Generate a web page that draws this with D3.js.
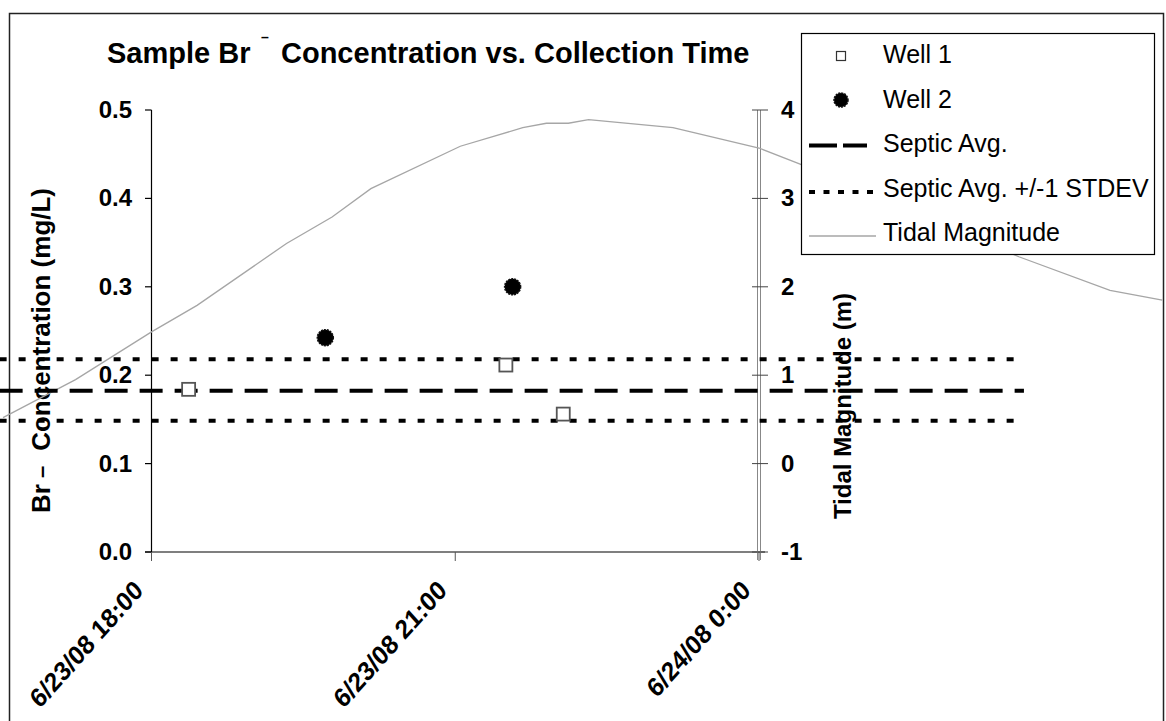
<!DOCTYPE html>
<html>
<head>
<meta charset="utf-8">
<script src="https://cdn.jsdelivr.net/npm/d3@7"></script>
<style>
    body { margin: 0; background: #fff; }
    svg { display: block; font-family: Arial, "Liberation Sans", sans-serif; }
</style>
</head>
<body>
<svg id="chart" width="1166" height="721"></svg>
<script>
'use strict';

// sample data
var well1Times = ['2008-06-23 18:22', '2008-06-23 21:30', '2008-06-23 22:04'];
var well1Values = [0.184, 0.2115, 0.156];
var well2Times = ['2008-06-23 19:43', '2008-06-23 21:34'];
var well2Values = [0.2424, 0.300];

var septicSpan = ['2008-06-23 16:30', '2008-06-24 02:37'];
var septicAvg = 0.1825;
var septicUpper = 0.218;
var septicLower = 0.1485;

var tideTimes = ['2008-06-23 16:32', '2008-06-23 17:15', '2008-06-23 18:00', '2008-06-23 18:27',
    '2008-06-23 19:20', '2008-06-23 19:47', '2008-06-23 20:10', '2008-06-23 21:03',
    '2008-06-23 21:40', '2008-06-23 21:54', '2008-06-23 22:07', '2008-06-23 22:19',
    '2008-06-23 23:09', '2008-06-24 00:00', '2008-06-24 00:24', '2008-06-24 02:34',
    '2008-06-24 03:28', '2008-06-24 03:59'];
var tideValues = [0.52, 0.95, 1.49, 1.79, 2.49, 2.79, 3.11, 3.59, 3.80, 3.85, 3.85, 3.89,
    3.80, 3.57, 3.39, 2.34, 1.96, 1.85];

var xTicks = ['2008-06-23 18:00', '2008-06-23 21:00', '2008-06-24 00:00'];
var leftTicks = [0, 0.1, 0.2, 0.3, 0.4, 0.5];
var rightTicks = [-1, 0, 1, 2, 3, 4];
var legendLabels = ['Well 1', 'Well 2', 'Septic Avg.', 'Septic Avg. +/-1 STDEV', 'Tidal Magnitude'];

var parseTime = d3.timeParse('%Y-%m-%d %H:%M');
var fmtTick = function(d) { return d3.timeFormat('%-m/%-d/%y')(d) + ' ' + d.getHours() + d3.timeFormat(':%M')(d); };

var svg = d3.select('#chart');

var x = d3.scaleTime()
    .domain([parseTime('2008-06-23 18:00'), parseTime('2008-06-24 00:00')])
    .range([151.5, 759]);
var yLeft = d3.scaleLinear().domain([0, 0.5]).range([552, 110]);
var yRight = d3.scaleLinear().domain([-1, 4]).range([552, 110]);

// outer frame
svg.append('rect')
    .attr('x', 9.5).attr('y', 13.5)
    .attr('width', 1154).attr('height', 800)
    .style('fill', 'none').style('stroke', '#222').style('stroke-width', 1.5);

// title
var title = svg.append('text')
    .attr('y', 63)
    .style('font-size', '29px').style('font-weight', 'bold');
title.append('tspan').attr('x', 107).text('Sample Br');
title.append('tspan').attr('x', 261).attr('y', 42).style('font-size', '14px').text('\u2013');
title.append('tspan').attr('x', 281).attr('y', 63).text('Concentration vs. Collection Time');

// axis titles
var leftTitle = svg.append('text')
    .attr('transform', 'translate(50,513) rotate(-90)')
    .style('font-size', '26px').style('font-weight', 'bold');
leftTitle.append('tspan').attr('x', 0).text('Br');
leftTitle.append('tspan').attr('dx', 6).attr('dy', -1).style('font-size', '22px').text('\u2013');
leftTitle.append('tspan').attr('dx', 15).attr('dy', 1).text('Concentration (mg/L)');

svg.append('text')
    .attr('transform', 'translate(851,406) rotate(-90)')
    .attr('text-anchor', 'middle')
    .style('font-size', '24px').style('font-weight', 'bold')
    .text('Tidal Magnitude (m)');

// left axis
svg.append('line')
    .attr('x1', 151.5).attr('x2', 151.5).attr('y1', yLeft(0.5)).attr('y2', yLeft(0))
    .style('stroke', '#000').style('stroke-width', 1.2);
svg.selectAll('line.lTick').data(leftTicks).enter()
    .append('line')
    .attr('class', 'lTick')
    .attr('x1', 145).attr('x2', 151.5)
    .attr('y1', function(d) { return yLeft(d); })
    .attr('y2', function(d) { return yLeft(d); })
    .style('stroke', '#000').style('stroke-width', 1.2);
svg.selectAll('text.lLab').data(leftTicks).enter()
    .append('text')
    .attr('class', 'lLab')
    .attr('x', 132)
    .attr('y', function(d) { return yLeft(d) + 8; })
    .attr('text-anchor', 'end')
    .style('font-size', '24px').style('font-weight', 'bold')
    .text(function(d) { return d3.format('.1f')(d); });

// x axis
svg.append('line')
    .attr('x1', 145).attr('x2', 765).attr('y1', 552).attr('y2', 552)
    .style('stroke', '#000').style('stroke-width', 1.2);
svg.selectAll('line.xTick').data(xTicks).enter()
    .append('line')
    .attr('class', 'xTick')
    .attr('x1', function(d) { return x(parseTime(d)); })
    .attr('x2', function(d) { return x(parseTime(d)); })
    .attr('y1', 552).attr('y2', 561)
    .style('stroke', '#555').style('stroke-width', 1);
// the original labels look stretched a little vertically
svg.selectAll('text.xLab').data(xTicks).enter()
    .append('text')
    .attr('class', 'xLab')
    .attr('text-anchor', 'end')
    .attr('transform', function(d) { return 'translate(' + (x(parseTime(d)) - 7) + ',592) scale(1,1.12) rotate(-45)'; })
    .style('font-size', '24px').style('font-weight', 'bold')
    .text(function(d) { return fmtTick(parseTime(d)); });

// right axis, drawn as a thin double rule
[757.5, 760.5].forEach(function(px) {
    svg.append('line')
        .attr('x1', px).attr('x2', px).attr('y1', yRight(4)).attr('y2', yRight(-1) + 8)
        .style('stroke', '#888').style('stroke-width', 1);
});
svg.selectAll('line.rTick').data(rightTicks).enter()
    .append('line')
    .attr('class', 'rTick')
    .attr('x1', 752).attr('x2', 768)
    .attr('y1', function(d) { return yRight(d); })
    .attr('y2', function(d) { return yRight(d); })
    .style('stroke', '#444').style('stroke-width', 1);
svg.selectAll('text.rLab').data(rightTicks).enter()
    .append('text')
    .attr('class', 'rLab')
    .attr('x', 781)
    .attr('y', function(d) { return yRight(d) + 8; })
    .style('font-size', '24px').style('font-weight', 'bold')
    .text(function(d) { return d; });

// tidal magnitude
var tide = tideTimes.map(function(t, i) { return {t: parseTime(t), v: tideValues[i]}; });
svg.append('path')
    .datum(tide)
    .attr('d', d3.line()
        .x(function(d) { return x(d.t); })
        .y(function(d) { return yRight(d.v); }))
    .style('fill', 'none').style('stroke', '#a6a6a6').style('stroke-width', 1.3);

// septic average and +/- 1 stdev
var septic = [
    {v: septicUpper, dash: '7,12'},
    {v: septicAvg, dash: '23,12'},
    {v: septicLower, dash: '7,12'}
];
svg.selectAll('line.septic').data(septic).enter()
    .append('line')
    .attr('class', 'septic')
    .attr('x1', x(parseTime(septicSpan[0])))
    .attr('x2', x(parseTime(septicSpan[1])))
    .attr('y1', function(d) { return yLeft(d.v); })
    .attr('y2', function(d) { return yLeft(d.v); })
    .style('stroke', '#000').style('stroke-width', 4)
    .style('stroke-dasharray', function(d) { return d.dash; });

// wells
var well1 = well1Times.map(function(t, i) { return {t: parseTime(t), v: well1Values[i]}; });
var well2 = well2Times.map(function(t, i) { return {t: parseTime(t), v: well2Values[i]}; });
svg.selectAll('rect.well1').data(well1).enter()
    .append('rect')
    .attr('class', 'well1')
    .attr('x', function(d) { return x(d.t) - 6.5; })
    .attr('y', function(d) { return yLeft(d.v) - 6.5; })
    .attr('width', 13).attr('height', 13)
    .style('fill', '#fff').style('stroke', '#555').style('stroke-width', 1.8);
svg.selectAll('circle.well2').data(well2).enter()
    .append('circle')
    .attr('class', 'well2')
    .attr('cx', function(d) { return x(d.t); })
    .attr('cy', function(d) { return yLeft(d.v); })
    .attr('r', 8)
    .style('fill', '#000').style('stroke', '#111').style('stroke-width', 1.5)
    .style('stroke-dasharray', '2,1');

// legend
var legend = svg.append('g');
legend.append('rect')
    .attr('x', 801.5).attr('y', 33.5).attr('width', 353).attr('height', 221)
    .style('fill', '#fff').style('stroke', '#000').style('stroke-width', 1.2);
legend.selectAll('text').data(legendLabels).enter()
    .append('text')
    .attr('x', 883)
    .attr('y', function(d, i) { return 63 + i * 44.6; })
    .style('font-size', '25px')
    .text(function(d) { return d; });
legend.append('rect')
    .attr('x', 836.5).attr('y', 51.5).attr('width', 9).attr('height', 9)
    .style('fill', '#fff').style('stroke', '#333').style('stroke-width', 1.2);
legend.append('circle')
    .attr('cx', 841).attr('cy', 100).attr('r', 7)
    .style('fill', '#000').style('stroke', '#111').style('stroke-width', 1.5)
    .style('stroke-dasharray', '2,1');
legend.append('line')
    .attr('x1', 809).attr('x2', 867).attr('y1', 145.5).attr('y2', 145.5)
    .style('stroke', '#000').style('stroke-width', 4).style('stroke-dasharray', '28,6');
legend.append('line')
    .attr('x1', 809).attr('x2', 873).attr('y1', 192).attr('y2', 192)
    .style('stroke', '#000').style('stroke-width', 4).style('stroke-dasharray', '6,8.5');
legend.append('line')
    .attr('x1', 809).attr('x2', 876).attr('y1', 236).attr('y2', 236)
    .style('stroke', '#a6a6a6').style('stroke-width', 1.3);
</script>
</body>
</html>
